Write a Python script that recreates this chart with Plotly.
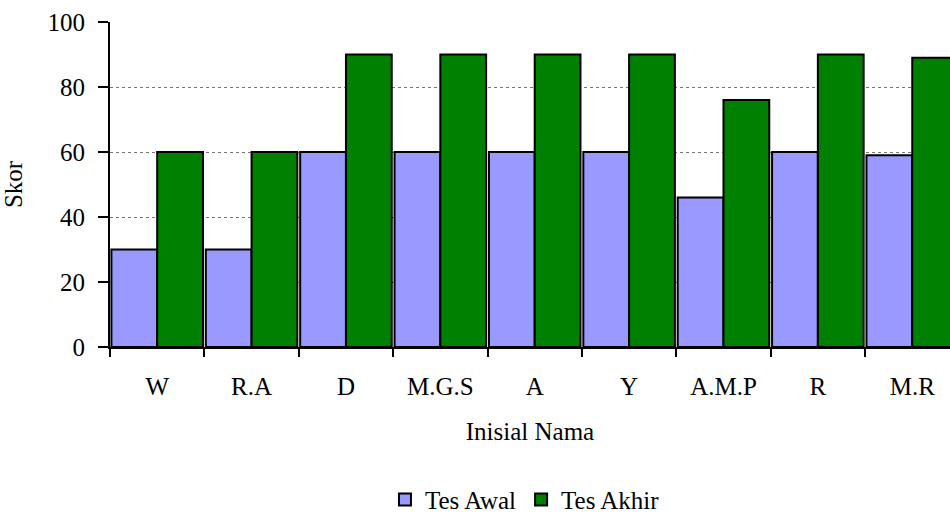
import plotly.graph_objects as go

# Skor tes awal dan tes akhir per siswa
inisial = ["W", "R.A", "D", "M.G.S", "A", "Y", "A.M.P", "R", "M.R"]
tes_awal = [30, 30, 60, 60, 60, 60, 46, 60, 59]
tes_akhir = [60, 60, 90, 90, 90, 90, 76, 90, 89]
y_ticks = [0, 20, 40, 60, 80, 100]

FONT = "Liberation Serif, Times New Roman, serif"

fig = go.Figure()
fig.add_trace(go.Bar(
    name="Tes Awal", x=inisial, y=tes_awal,
    marker=dict(color="#9999FF", line=dict(color="black", width=2)),
))
fig.add_trace(go.Bar(
    name="Tes Akhir", x=inisial, y=tes_akhir,
    marker=dict(color="#008000", line=dict(color="black", width=2)),
))

fig.update_layout(
    width=950, height=516,
    margin=dict(l=110, r=0, t=22, b=169, autoexpand=False),
    paper_bgcolor="white", plot_bgcolor="white",
    barmode="group", bargap=0.03, bargroupgap=0,
    font=dict(family=FONT, size=25, color="black"),
    showlegend=True,
    legend=dict(
        orientation="h", xref="paper", yref="container",
        x=0.494, xanchor="center", y=0.076, yanchor="top",
        font=dict(family=FONT, size=25, color="black"),
        itemwidth=30, tracegroupgap=0,
    ),
)

fig.update_xaxes(
    type="category", range=[-0.5, 8.40], automargin=False,
    showline=True, linecolor="black", linewidth=2,
    ticks="outside", tickson="boundaries", ticklen=8, tickwidth=2, tickcolor="black",
    ticklabelstandoff=16,
    showgrid=False, zeroline=False,
    title=dict(text="Inisial Nama", font=dict(family=FONT, size=25), standoff=23),
)
fig.update_yaxes(
    range=[0, 100], tickvals=y_ticks, automargin=False,
    showline=True, linecolor="black", linewidth=2,
    ticks="outside", ticklen=10, tickwidth=2, tickcolor="black",
    ticklabelstandoff=8,
    showgrid=True, gridcolor="#777777", gridwidth=1, griddash="dot",
    zeroline=False,
    title=dict(text="Skor", font=dict(family=FONT, size=25), standoff=18),
)

fig.write_html("out.html")
